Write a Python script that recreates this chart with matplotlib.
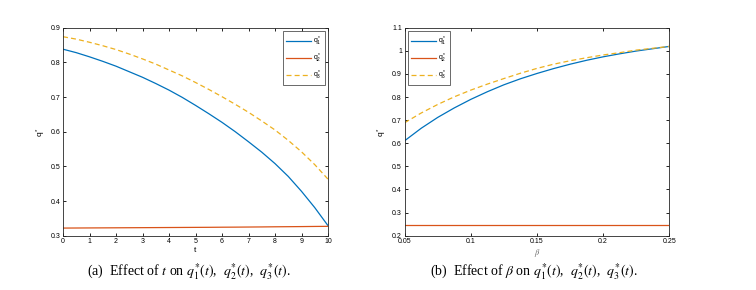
import matplotlib
matplotlib.use("Agg")
import matplotlib.pyplot as plt

plt.rcParams['font.family'] = ['Liberation Sans', 'DejaVu Sans']
plt.rcParams['mathtext.fontset'] = 'stix'

# Panel (a): effect of t
t_vals = [0, 0.5, 1, 1.5, 2, 2.5, 3, 3.5, 4, 4.5, 5, 5.5, 6, 6.5, 7, 7.5, 8, 8.5, 9, 9.5, 10]
a_q1 = [0.838, 0.828, 0.816, 0.803, 0.789, 0.773, 0.757, 0.739, 0.720, 0.699, 0.676,
        0.652, 0.627, 0.600, 0.571, 0.541, 0.508, 0.471, 0.428, 0.381, 0.329]
a_q2 = [0.3220, 0.3222, 0.3224, 0.3226, 0.3228, 0.3230, 0.3232, 0.3234, 0.3236, 0.3238, 0.3240,
        0.3242, 0.3245, 0.3247, 0.3250, 0.3253, 0.3257, 0.3260, 0.3263, 0.3267, 0.3270]
a_q3 = [0.874, 0.867, 0.858, 0.848, 0.837, 0.824, 0.810, 0.795, 0.778, 0.761, 0.742,
        0.722, 0.701, 0.679, 0.656, 0.631, 0.605, 0.575, 0.542, 0.505, 0.463]

# Panel (b): effect of beta
beta_vals = [0.05, 0.0625, 0.075, 0.0875, 0.1, 0.1125, 0.125, 0.1375, 0.15,
             0.1625, 0.175, 0.1875, 0.2, 0.2125, 0.225, 0.2375, 0.25]
b_q1 = [0.611, 0.665, 0.712, 0.753, 0.790, 0.823, 0.853, 0.879, 0.902,
        0.923, 0.942, 0.959, 0.974, 0.987, 0.999, 1.009, 1.019]
b_q2 = [0.245] * 17
b_q3 = [0.689, 0.731, 0.768, 0.801, 0.830, 0.856, 0.880, 0.903, 0.924,
        0.942, 0.957, 0.970, 0.982, 0.992, 1.003, 1.011, 1.019]

labels = [r'$\mathregular{q^*_1}$', r'$\mathregular{q^*_2}$', r'$\mathregular{q^*_3}$']
colors = ['#0072BD', '#D95319', '#EDB120']

fig = plt.figure(figsize=(7.56, 2.9), dpi=100)
ax1 = fig.add_axes([63/756, 54.3/290, 265/756, 208/290])
ax2 = fig.add_axes([404.7/756, 54.3/290, 264.6/756, 208/290])

def style(ax):
    ax.tick_params(direction='in', top=True, right=True, labelsize=5, length=2.5, width=0.6, pad=2)
    for s in ax.spines.values():
        s.set_linewidth(0.6)
        s.set_color('#262626')

def legend(ax, loc):
    leg = ax.legend(loc=loc, fontsize=5, frameon=True, fancybox=False,
                    edgecolor='#262626', handlelength=3.6, borderpad=0.45, labelspacing=0.55,
                    handletextpad=0.3, borderaxespad=0.5)
    leg.get_frame().set_linewidth(0.6)

ax1.plot(t_vals, a_q1, color=colors[0], lw=0.9, label=labels[0])
ax1.plot(t_vals, a_q2, color=colors[1], lw=0.9, label=labels[1])
ax1.plot(t_vals, a_q3, color=colors[2], lw=0.9, ls=(0, (4, 2.5)), label=labels[2])
ax1.set_xlim(0, 10)
ax1.set_ylim(0.3, 0.9)
ax1.set_xticks(range(0, 11))
ax1.set_yticks([0.3, 0.4, 0.5, 0.6, 0.7, 0.8, 0.9])
ax1.set_yticklabels(['0.3', '0.4', '0.5', '0.6', '0.7', '0.8', '0.9'])
ax1.set_xlabel('t', fontsize=6, labelpad=1)
ax1.set_ylabel(r'$\mathregular{q^*}$', fontsize=6, labelpad=2)
style(ax1)
legend(ax1, 'upper right')

ax2.plot(beta_vals, b_q1, color=colors[0], lw=0.9, label=labels[0])
ax2.plot(beta_vals, b_q2, color=colors[1], lw=0.9, label=labels[1])
ax2.plot(beta_vals, b_q3, color=colors[2], lw=0.9, ls=(0, (4, 2.5)), label=labels[2])
ax2.set_xlim(0.05, 0.25)
ax2.set_ylim(0.2, 1.1)
ax2.set_xticks([0.05, 0.1, 0.15, 0.2, 0.25])
ax2.set_xticklabels(['0.05', '0.1', '0.15', '0.2', '0.25'])
ax2.set_yticks([0.2, 0.3, 0.4, 0.5, 0.6, 0.7, 0.8, 0.9, 1.0, 1.1])
ax2.set_yticklabels(['0.2', '0.3', '0.4', '0.5', '0.6', '0.7', '0.8', '0.9', '1', '1.1'])
ax2.set_xlabel(r'$\beta$', fontsize=6, labelpad=1, color='#666666')
ax2.set_ylabel(r'$\mathregular{q^*}$', fontsize=6, labelpad=2)
style(ax2)
legend(ax2, 'upper left')

fig.text(189/756, 1 - 272/290, r'(a)  Effect of $t$ on $q_1^{*}(t)$,  $q_2^{*}(t)$,  $q_3^{*}(t)$.',
         ha='center', va='center', fontsize=10, family='Liberation Serif')
fig.text(534/756, 1 - 272/290, r'(b)  Effect of $\beta$ on $q_1^{*}(t)$,  $q_2^{*}(t)$,  $q_3^{*}(t)$.',
         ha='center', va='center', fontsize=10, family='Liberation Serif')

fig.savefig('out.png', dpi=100)
